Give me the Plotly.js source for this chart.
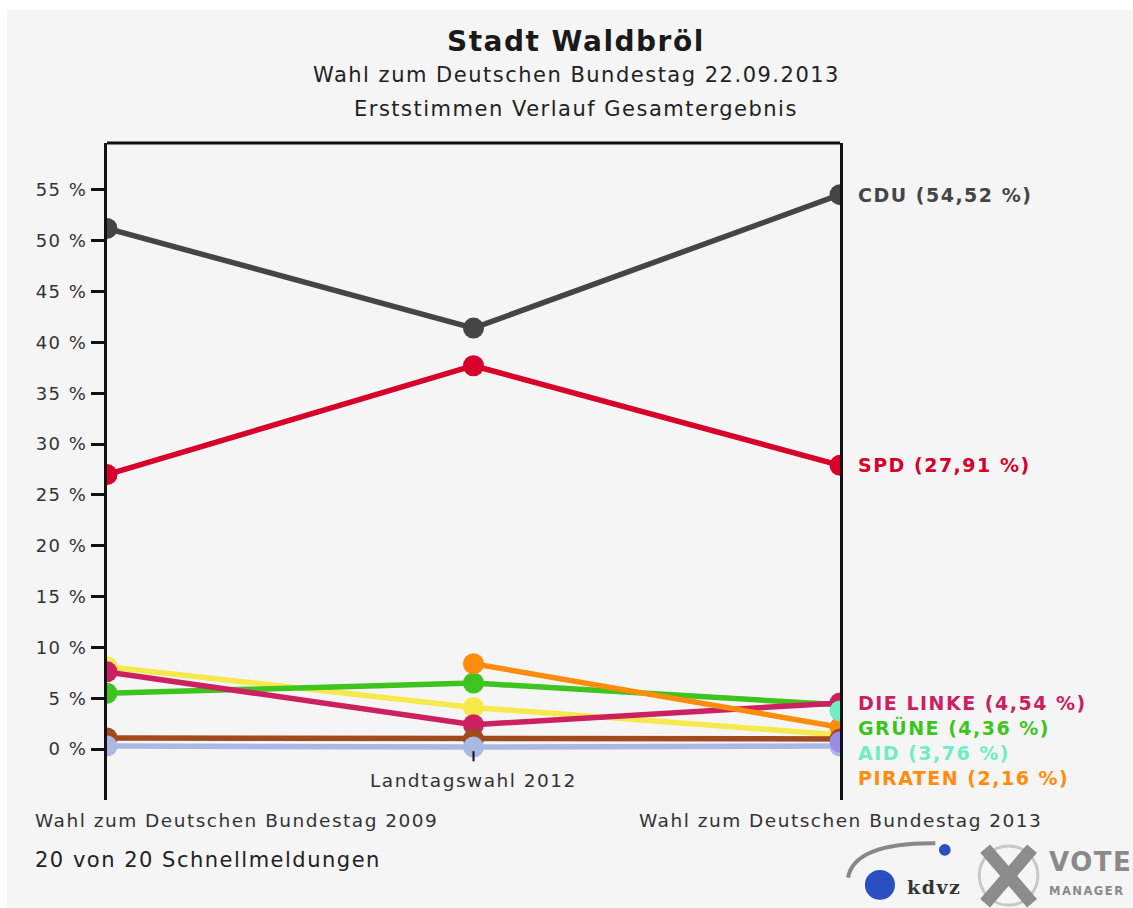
<!DOCTYPE html>
<html>
<head>
<meta charset="utf-8">
<script src="https://cdn.plot.ly/plotly-3.0.1.min.js"></script>
<style>
  body { margin: 0; background: #ffffff; }
  #chart { position: absolute; left: 7px; top: 10px; width: 1126px; height: 898px; }
  /* the original lettering is quite wide-spaced */
  text { letter-spacing: 1.5px; }
</style>
</head>
<body>
<div id="chart"></div>
<script>
// elections (x positions 0,1,2)
var wahlen = ['Wahl zum Deutschen Bundestag 2009', 'Landtagswahl 2012', 'Wahl zum Deutschen Bundestag 2013'];

// Erststimmen in % (null = did not run)
var cdu     = [51.2, 41.4, 54.52];
var spd     = [27.0, 37.7, 27.91];
var linke   = [7.6, 2.4, 4.54];
var gruene  = [5.5, 6.5, 4.36];
var fdp     = [8.1, 4.1, 1.4];
var piraten = [null, 8.4, 2.16];
var afd     = [null, null, 3.76];
var sonst   = [1.1, 1.0, 1.0];
var andere  = [0.3, 0.2, 0.3];
var andere2 = [null, null, 0.7];

var yTicks = [0, 5, 10, 15, 20, 25, 30, 35, 40, 45, 50, 55];

// drawing order bottom -> top
var parteien = [
  {name: 'FDP',       y: fdp,     color: '#f6e94c', label: false},
  {name: 'GRÜNE',     y: gruene,  color: '#3ec41e', label: true},
  {name: 'DIE LINKE', y: linke,   color: '#cc2060', label: true},
  {name: 'PIRATEN',   y: piraten, color: '#ff8c0a', label: true},
  {name: 'Sonstige',  y: sonst,   color: '#a04a1e', label: false},
  {name: 'Andere',    y: andere,  color: '#aab8e4', label: false},
  {name: 'Andere2',   y: andere2, color: '#9a8ce6', label: false},
  {name: 'AID',       y: afd,     color: '#70ecc8', label: true},
  {name: 'SPD',       y: spd,     color: '#d6002a', label: true},
  {name: 'CDU',       y: cdu,     color: '#454545', label: true}
];

var xs = [0, 1, 2];
var traces = parteien.map(function(p) {
  return {
    x: xs, y: p.y, type: 'scatter', mode: 'lines+markers', name: p.name,
    connectgaps: false,
    line: {color: p.color, width: 5.5},
    marker: {color: p.color, size: 21},
    hoverinfo: 'skip'
  };
});

var yRange = [-5, 59.6];
var plotH = 898 - 133 - 108;
var pxPerUnit = plotH / (yRange[1] - yRange[0]);

function fmt(v) { return v.toFixed(2).replace('.', ','); }

// right-side labels, pushed down so they don't overlap
var labelled = parteien.filter(function(p) { return p.label; })
  .map(function(p) { return {p: p, v: p.y[2]}; })
  .sort(function(a, b) { return b.v - a.v; });
var annotations = [];
var prevPx = -1e9;
labelled.forEach(function(l) {
  var px = (yRange[1] - l.v) * pxPerUnit;
  var pos = Math.max(px, prevPx + 25);
  prevPx = pos;
  annotations.push({
    x: 2, y: l.v, xref: 'x', yref: 'y', xanchor: 'left', yanchor: 'middle',
    xshift: 16, yshift: px - pos, showarrow: false,
    text: l.p.name + ' (' + fmt(l.v) + ' %)',
    font: {family: 'DejaVu Sans', size: 19, color: l.p.color, weight: 'bold'}
  });
});

var lblFont = {family: 'DejaVu Sans', size: 18.5, color: '#333'};
// x category labels (staggered)
annotations.push({x: 0, y: 0, xref: 'x', yref: 'paper', xanchor: 'left', yanchor: 'middle',
  xshift: -74, yshift: -20, showarrow: false, text: wahlen[0], font: lblFont});
annotations.push({x: 1, y: 0, xref: 'x', yref: 'paper', xanchor: 'center', yanchor: 'middle',
  yshift: 20, showarrow: false, text: wahlen[1], font: lblFont});
annotations.push({x: 2, y: 0, xref: 'x', yref: 'paper', xanchor: 'center', yanchor: 'middle',
  yshift: -20, showarrow: false, text: wahlen[2], font: lblFont});

// titles
annotations.push({x: 0.64, y: 1.154, xref: 'paper', yref: 'paper', yanchor: 'middle', showarrow: false,
  text: 'Stadt Waldbröl', font: {family: 'DejaVu Sans', size: 28, color: '#1a1a1a', weight: 'bold'}});
annotations.push({x: 0.64, y: 1.104, xref: 'paper', yref: 'paper', yanchor: 'middle', showarrow: false,
  text: 'Wahl zum Deutschen Bundestag 22.09.2013', font: {family: 'DejaVu Sans', size: 21, color: '#222'}});
annotations.push({x: 0.64, y: 1.051, xref: 'paper', yref: 'paper', yanchor: 'middle', showarrow: false,
  text: 'Erststimmen Verlauf Gesamtergebnis', font: {family: 'DejaVu Sans', size: 21, color: '#222'}});

// footer
annotations.push({x: -0.101, y: -0.091, xref: 'paper', yref: 'paper', xanchor: 'left', yanchor: 'middle',
  showarrow: false, text: '20 von 20 Schnellmeldungen', font: {family: 'DejaVu Sans', size: 21, color: '#222'}});

// logos (rough)
annotations.push({x: 1.089, y: -0.132, xref: 'paper', yref: 'paper', xanchor: 'left', yanchor: 'middle',
  showarrow: false, text: '<b>kdvz</b>', font: {family: 'DejaVu Serif', size: 19, color: '#333'}});
annotations.push({x: 1.282, y: -0.094, xref: 'paper', yref: 'paper', xanchor: 'left', yanchor: 'middle',
  showarrow: false, text: '<b>VOTE</b>', font: {family: 'DejaVu Sans', size: 26, color: '#8a8a8a'}});
annotations.push({x: 1.282, y: -0.138, xref: 'paper', yref: 'paper', xanchor: 'left', yanchor: 'middle',
  showarrow: false, text: '<b>MANAGER</b>', font: {family: 'DejaVu Sans', size: 11.5, color: '#8a8a8a'}});

var shapes = [
  // top frame line
  {type: 'line', xref: 'paper', yref: 'paper', x0: 0, x1: 1, y0: 1, y1: 1,
   line: {color: '#111', width: 3}},
  // middle tick
  {type: 'line', xref: 'x', yref: 'y', x0: 1, x1: 1, y0: -0.2, y1: -1.2,
   line: {color: '#111', width: 2}},
  // kdvz swoosh + balls
  {type: 'path', xref: 'paper', yref: 'paper',
   path: 'M 1.011,-0.118 Q 1.02,-0.065 1.13,-0.066', line: {color: '#888', width: 4}},
  {type: 'circle', xref: 'paper', yref: 'paper', x0: 1.034, x1: 1.075, y0: -0.152, y1: -0.1065,
   fillcolor: '#2a4fc0', line: {width: 0}},
  {type: 'circle', xref: 'paper', yref: 'paper', x0: 1.135, x1: 1.151, y0: -0.085, y1: -0.067,
   fillcolor: '#2a4fc0', line: {width: 0}},
  // vote manager cross
  {type: 'circle', xref: 'paper', yref: 'paper', x0: 1.19, x1: 1.27, y0: -0.16, y1: -0.07,
   line: {color: '#c8c8c8', width: 3}},
  {type: 'line', xref: 'paper', yref: 'paper', x0: 1.198, x1: 1.262, y0: -0.074, y1: -0.157,
   line: {color: '#8c8c8c', width: 13}},
  {type: 'line', xref: 'paper', yref: 'paper', x0: 1.262, x1: 1.198, y0: -0.074, y1: -0.157,
   line: {color: '#8c8c8c', width: 13}}
];

var layout = {
  width: 1126, height: 898,
  margin: {l: 100, r: 293, t: 133, b: 108},
  paper_bgcolor: '#f5f5f5', plot_bgcolor: '#f5f5f5',
  showlegend: false,
  xaxis: {range: [0, 2], showgrid: false, zeroline: false, showline: false,
          showticklabels: false, ticks: '', fixedrange: true},
  yaxis: {range: yRange, tickvals: yTicks, ticktext: yTicks.map(function(t) { return t + ' %'; }),
          showgrid: false, zeroline: false, showline: true, mirror: true,
          linecolor: '#111', linewidth: 3, ticks: 'outside', ticklen: 13, tickwidth: 3,
          tickcolor: '#111', tickfont: {family: 'DejaVu Sans', size: 18, color: '#333'}},
  annotations: annotations,
  shapes: shapes
};

Plotly.newPlot('chart', traces, layout, {displayModeBar: false, staticPlot: true});
</script>
</body>
</html>
